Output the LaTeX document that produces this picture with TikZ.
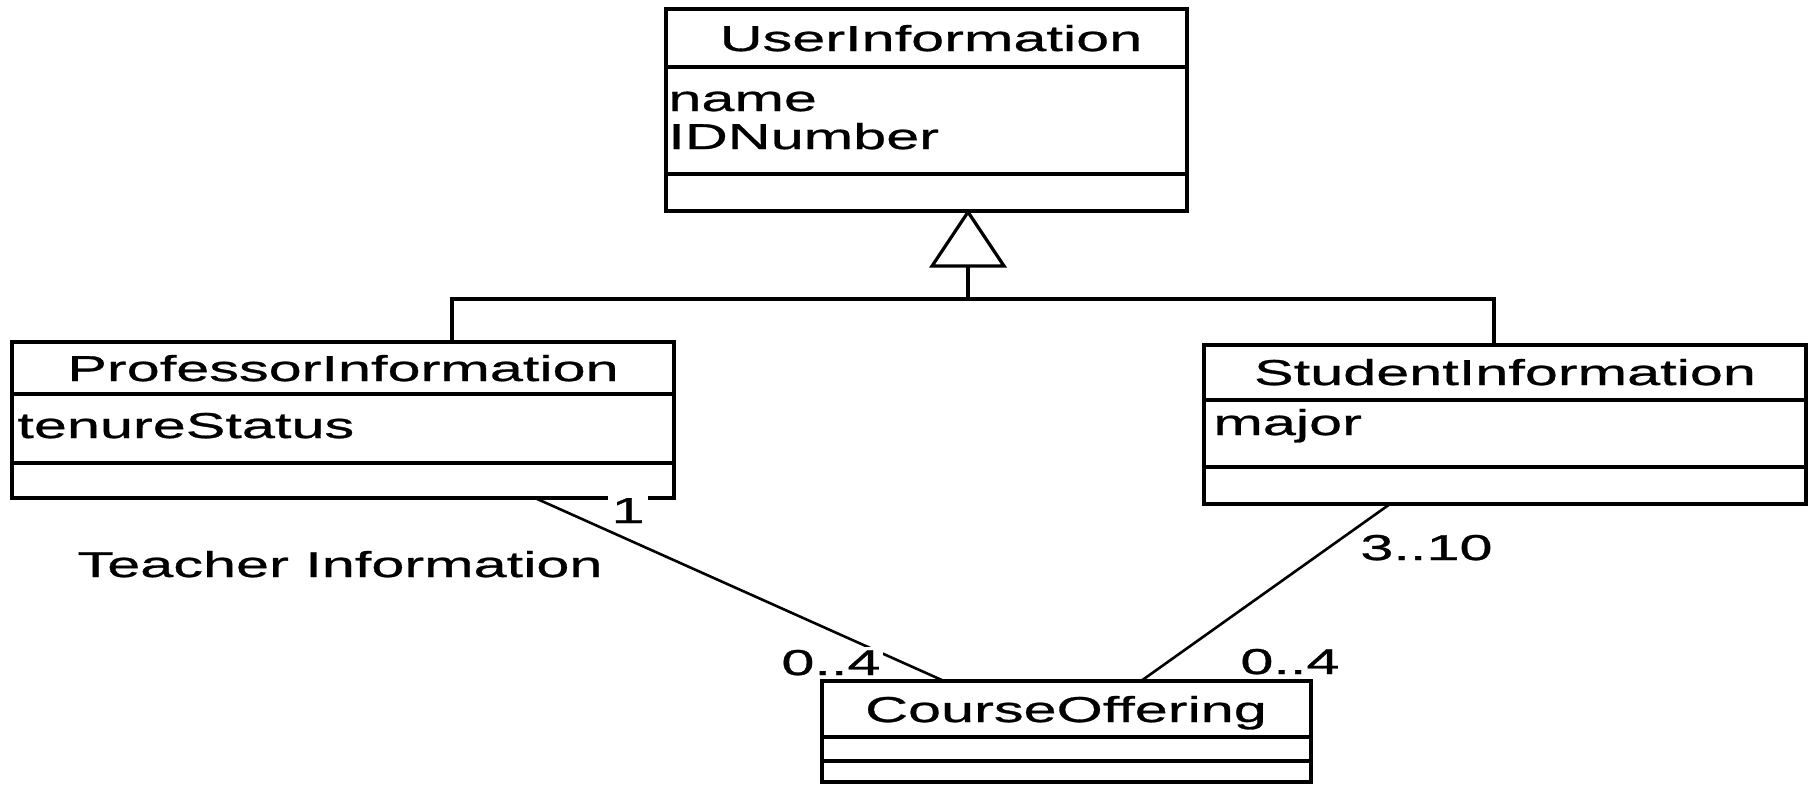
\documentclass[tikz,border=0pt]{standalone}
\usepackage{fontspec}
\setmainfont[FakeStretch=1.65,FakeBold=0.8]{Liberation Sans}
\usetikzlibrary{calc}
\begin{document}
\begin{tikzpicture}[x=0.5pt,y=-0.5pt,
  classbox/.style={draw,line width=1.6pt,inner sep=0pt,outer sep=0pt,anchor=north west},
  sepline/.style={line width=1.6pt},
  genline/.style={line width=1.6pt},
  assoc/.style={line width=1.3pt},
  txt/.style={inner sep=0pt,font=\fontsize{18}{20}\selectfont},
  mult/.style={txt,fill=white,inner sep=1.5pt}]
\useasboundingbox (0,0) rectangle (1816,784);

% classes
\node[classbox,minimum width=260.5pt,minimum height=101pt] (user) at (666,9) {};
\draw[sepline] (666,67) -- (1187,67);
\draw[sepline] (666,174) -- (1187,174);
\node[txt,anchor=base] (usert) at (931,51) {UserInformation};
\node[txt,anchor=base west] (usera) at (668,111) {name};
\node[txt,anchor=base west] (userb) at (668,149) {IDNumber};

\node[classbox,minimum width=331pt,minimum height=78pt] (prof) at (12,342) {};
\draw[sepline] (12,394) -- (674,394);
\draw[sepline] (12,463) -- (674,463);
\node[txt,anchor=base] (proft) at (343,381) {ProfessorInformation};
\node[txt,anchor=base west] (profa) at (17,438) {tenureStatus};

\node[classbox,minimum width=301pt,minimum height=79.5pt] (stud) at (1204,345) {};
\draw[sepline] (1204,400) -- (1806,400);
\draw[sepline] (1204,467) -- (1806,467);
\node[txt,anchor=base] (studt) at (1505,385) {StudentInformation};
\node[txt,anchor=base west] (studa) at (1213,435) {major};

\node[classbox,minimum width=244.5pt,minimum height=50.5pt] (course) at (822,681) {};
\draw[sepline] (822,737) -- (1311,737);
\draw[sepline] (822,761) -- (1311,761);
\node[txt,anchor=base] (courset) at (1066,722) {CourseOffering};

% generalization
\coordinate (apex) at (968,212);
\coordinate (tb) at (968,266);
\coordinate (bar) at (968,299);
\coordinate (pj) at (452,342);
\coordinate (sj) at (1494,345);
\draw[genline,line join=miter] (apex) -- ++(36,54) -- ++(-72,0) -- cycle;
\draw[genline] (tb) -- (bar);
\draw[genline] (pj) |- (bar) -| (sj);

% associations
\coordinate (pa) at (535,498);
\coordinate (ca) at (944,681);
\coordinate (sa) at (1390,504);
\coordinate (cb) at (1141,681);
\draw[assoc] (pa) -- (ca);
\draw[assoc] (sa) -- (cb);

\node[mult,anchor=base] (m1) at (628,523) {1};
\node[mult,anchor=base west] (m2) at (778,675) {0..4};
\node[mult,anchor=base west] (m3) at (1357,560) {3..10};
\node[mult,anchor=base west] (m4) at (1237,674) {0..4};
\node[txt,anchor=base] (teach) at (340,577) {Teacher Information};
\end{tikzpicture}
\end{document}
